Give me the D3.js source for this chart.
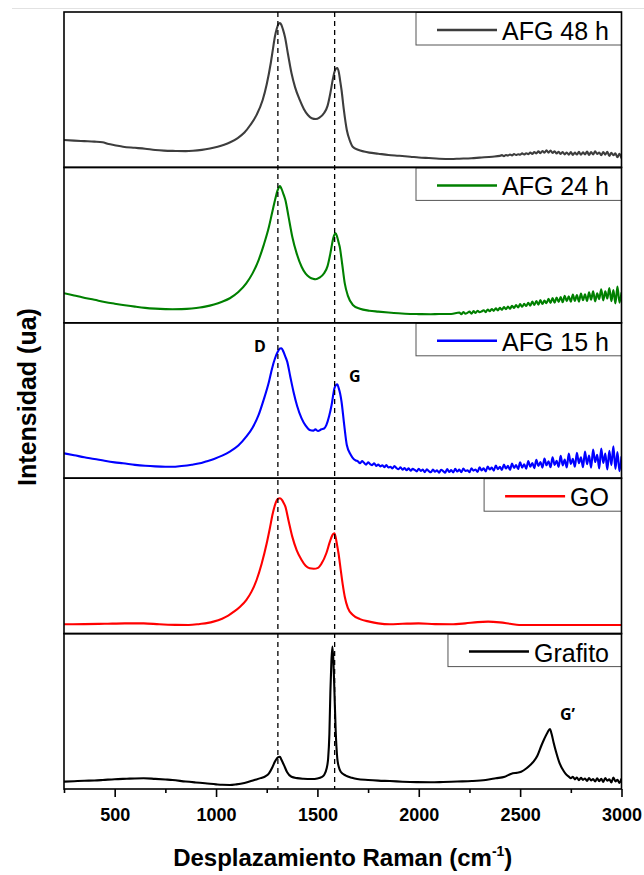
<!DOCTYPE html>
<html><head><meta charset="utf-8">
<script src="https://cdn.jsdelivr.net/npm/d3@7"></script>
<style>body{margin:0;background:#fff}</style>
</head><body>
<svg id="chart" width="644" height="875"></svg>
<script>
const seriesNames = ["AFG 48 h","AFG 24 h","AFG 15 h","GO","Grafito"];
const seriesColors = ["#3d3d3d","#008000","#0000ff","#ff0000","#000000"];

const afg48 = [[250,17.6],[300,17.2],[350,16.9],[400,16.6],[440,16.2],[470,15.0],[500,14.3],[541,13.3],[600,12.6],[650,12.0],[700,11.2],[743,10.8],[800,10.6],[850,10.5],[886,10.7],[930,11.3],[970,12.2],[1008,13.3],[1040,14.6],[1070,16.2],[1107,18.9],[1140,22.4],[1169,27.3],[1200,33.8],[1230,43.4],[1250,53.5],[1270,67.2],[1280,75.6],[1290,83.9],[1300,89.5],[1310,92.6],[1315,92.9],[1322,91.8],[1330,88.8],[1340,83.9],[1355,72.8],[1372,60.7],[1390,51.5],[1413,43.4],[1433,37.6],[1453,33.7],[1472,31.6],[1492,31.1],[1510,32.0],[1533,35.0],[1550,39.6],[1564,47.9],[1575,56.0],[1584,61.4],[1592,63.6],[1598,64.0],[1606,61.0],[1612,56.0],[1619,49.8],[1630,37.5],[1645,24.1],[1660,17.2],[1674,13.3],[1700,11.4],[1730,10.2],[1756,9.5],[1800,8.8],[1850,8.0],[1900,7.5],[1958,6.9],[2000,6.4],[2050,6.0],[2100,5.6],[2160,5.4],[2200,5.6],[2260,5.9],[2300,6.3],[2363,6.9],[2400,7.4],[2410,7.9],[2420,7.2],[2430,8.0],[2440,7.6],[2450,8.3],[2460,7.7],[2470,8.6],[2480,8.0],[2490,8.5],[2500,8.2],[2510,9.0],[2520,8.3],[2530,9.1],[2540,8.5],[2550,9.6],[2560,8.7],[2570,9.8],[2580,9.0],[2590,10.3],[2600,9.2],[2610,10.6],[2620,9.4],[2630,11.0],[2640,9.5],[2650,10.9],[2660,9.3],[2670,10.4],[2680,9.0],[2690,10.1],[2700,8.6],[2710,9.9],[2720,8.4],[2730,9.6],[2740,8.2],[2750,9.8],[2760,8.0],[2770,9.5],[2780,8.3],[2790,10.0],[2800,8.1],[2810,9.7],[2820,8.4],[2830,10.2],[2840,8.0],[2850,9.9],[2860,8.3],[2870,10.4],[2880,8.6],[2890,9.6],[2900,7.8],[2910,9.9],[2920,8.2],[2930,10.1],[2940,7.4],[2950,9.4],[2960,7.8],[2970,9.0],[2980,6.5],[2990,8.8],[3000,5.8]];

const afg24 = [[250,19.0],[300,17.6],[339,16.4],[400,14.8],[450,13.4],[500,12.3],[541,11.5],[600,10.4],[650,9.6],[700,9.1],[750,8.8],[785,8.7],[830,8.8],[880,9.2],[920,9.8],[946,10.4],[990,11.8],[1030,13.6],[1068,15.8],[1110,19.8],[1149,25.4],[1180,31.8],[1210,40.4],[1235,50.0],[1261,61.8],[1276,70.5],[1291,79.0],[1303,85.0],[1312,87.6],[1315,88.0],[1322,86.5],[1332,83.0],[1342,79.0],[1358,68.0],[1376,55.4],[1398,44.5],[1422,36.1],[1442,31.6],[1462,29.3],[1478,28.3],[1492,28.0],[1510,29.0],[1533,31.9],[1550,36.5],[1564,44.7],[1572,50.5],[1578,54.4],[1585,57.0],[1590,57.6],[1597,55.5],[1604,52.0],[1610,49.0],[1622,38.0],[1635,25.4],[1650,17.5],[1675,11.5],[1710,9.0],[1756,7.8],[1800,7.2],[1850,6.6],[1900,6.1],[1958,5.7],[2000,5.6],[2060,5.5],[2100,5.7],[2160,5.7],[2200,6.6],[2210,5.5],[2220,6.9],[2230,5.8],[2240,6.4],[2250,7.2],[2260,5.9],[2270,7.5],[2280,6.3],[2290,7.8],[2300,6.8],[2310,7.3],[2320,8.1],[2330,6.9],[2340,8.6],[2350,7.4],[2360,8.9],[2370,7.7],[2380,9.3],[2390,8.0],[2400,9.6],[2410,8.4],[2420,10.1],[2430,8.8],[2440,10.4],[2450,9.0],[2460,11.0],[2470,9.5],[2480,11.4],[2490,9.9],[2500,12.0],[2510,10.3],[2520,12.2],[2530,10.8],[2540,12.9],[2550,11.0],[2560,13.6],[2570,11.5],[2580,14.0],[2590,11.7],[2600,14.6],[2610,12.1],[2620,14.3],[2630,12.6],[2640,15.4],[2650,12.8],[2660,15.9],[2670,13.0],[2680,16.2],[2690,13.4],[2700,16.6],[2710,13.2],[2720,17.4],[2730,13.9],[2740,17.0],[2750,13.5],[2760,18.2],[2770,14.1],[2780,17.8],[2790,13.6],[2800,18.9],[2810,14.5],[2820,18.4],[2830,14.0],[2840,19.6],[2850,14.8],[2860,20.3],[2870,13.8],[2880,19.0],[2890,15.2],[2900,21.6],[2910,14.4],[2920,20.2],[2930,15.6],[2940,22.4],[2950,13.9],[2960,21.0],[2970,12.5],[2980,23.4],[2990,13.0],[3000,19.5]];

const afg15 = [[250,16.0],[300,14.8],[350,13.5],[400,12.4],[450,11.2],[500,10.2],[541,9.6],[600,8.6],[650,8.0],[700,7.6],[750,7.4],[785,7.4],[830,7.9],[880,8.7],[920,9.6],[946,10.6],[990,12.4],[1030,14.5],[1068,17.1],[1110,21.0],[1149,26.7],[1180,32.5],[1210,40.7],[1235,50.5],[1261,62.1],[1276,70.5],[1291,77.2],[1305,81.5],[1315,83.4],[1323,83.6],[1332,81.5],[1341,78.5],[1351,75.0],[1366,65.5],[1382,55.7],[1400,46.5],[1422,38.5],[1442,33.8],[1462,31.0],[1480,30.6],[1490,31.4],[1503,30.4],[1520,31.5],[1533,32.0],[1544,34.2],[1558,40.0],[1570,47.1],[1584,57.9],[1592,60.0],[1598,60.4],[1605,58.0],[1612,54.5],[1619,49.2],[1632,34.5],[1645,21.4],[1665,15.0],[1680,12.2],[1690,11.4],[1700,10.8],[1710,9.6],[1720,11.0],[1730,9.9],[1740,8.7],[1750,10.2],[1760,9.1],[1770,8.4],[1780,9.6],[1790,7.9],[1800,8.8],[1810,7.6],[1820,8.3],[1830,7.1],[1840,8.5],[1850,6.9],[1860,7.4],[1870,6.2],[1880,7.8],[1890,6.5],[1900,5.8],[1910,7.0],[1920,5.5],[1930,6.6],[1940,5.1],[1950,6.3],[1960,4.8],[1970,6.0],[1980,5.3],[1990,4.4],[2000,6.1],[2010,4.7],[2020,5.5],[2030,3.9],[2040,5.8],[2050,4.5],[2060,3.8],[2070,5.6],[2080,4.2],[2090,5.1],[2100,3.6],[2110,5.4],[2120,4.6],[2130,3.5],[2140,5.9],[2150,4.0],[2160,5.2],[2170,3.7],[2180,6.0],[2190,4.3],[2200,5.5],[2210,3.9],[2220,6.2],[2230,4.6],[2240,5.1],[2250,3.8],[2260,6.4],[2270,4.9],[2280,5.6],[2290,4.1],[2300,7.0],[2310,5.0],[2320,6.3],[2330,4.4],[2340,7.5],[2350,5.6],[2360,6.8],[2370,4.9],[2380,8.1],[2390,5.8],[2400,7.4],[2410,5.3],[2420,8.8],[2430,6.2],[2440,7.9],[2450,5.4],[2460,9.4],[2470,6.6],[2480,8.5],[2490,5.9],[2500,10.2],[2510,6.8],[2520,9.0],[2530,6.1],[2540,11.0],[2550,7.4],[2560,9.8],[2570,6.5],[2580,11.8],[2590,7.9],[2600,10.4],[2610,6.8],[2620,12.6],[2630,8.3],[2640,10.9],[2650,7.0],[2660,13.5],[2670,8.6],[2680,11.2],[2690,7.3],[2700,14.4],[2710,8.2],[2720,12.0],[2730,6.9],[2740,15.8],[2750,9.1],[2760,12.5],[2770,7.4],[2780,16.3],[2790,9.6],[2800,13.4],[2810,7.0],[2820,17.2],[2830,9.0],[2840,14.6],[2850,6.8],[2860,18.4],[2870,10.4],[2880,15.0],[2890,6.2],[2900,19.0],[2910,9.8],[2920,15.8],[2930,5.6],[2940,17.6],[2950,8.4],[2960,20.5],[2970,6.0],[2980,16.8],[2990,4.5],[3000,14.0]];

const grapheneOxide = [[250,6.0],[350,6.1],[450,6.3],[550,6.6],[643,6.6],[720,6.0],[800,5.6],[865,5.5],[920,6.2],[960,6.9],[987,7.7],[1030,9.6],[1060,11.6],[1088,14.1],[1120,17.5],[1149,21.6],[1175,27.0],[1200,34.5],[1225,45.0],[1250,58.1],[1265,67.5],[1280,77.4],[1295,84.5],[1305,86.7],[1315,87.1],[1325,86.0],[1333,84.2],[1342,81.7],[1358,72.5],[1376,62.4],[1398,53.6],[1422,47.4],[1442,43.6],[1462,42.0],[1482,41.7],[1503,42.3],[1520,45.0],[1544,51.7],[1560,58.5],[1574,63.4],[1580,64.3],[1584,64.5],[1590,62.0],[1597,57.0],[1604,51.7],[1615,41.0],[1625,31.5],[1635,23.7],[1650,16.5],[1675,12.0],[1710,9.3],[1756,7.7],[1800,6.6],[1857,6.0],[1920,6.3],[1999,6.6],[2080,6.1],[2160,6.0],[2230,6.6],[2290,7.4],[2342,7.7],[2400,7.2],[2450,6.3],[2495,5.5],[2600,5.5],[2768,5.5],[2900,5.5],[3000,5.5]];

const graphite = [[250,4.7],[300,5.0],[350,5.3],[400,5.5],[441,5.8],[500,6.3],[560,6.6],[600,6.8],[643,6.9],[700,6.5],[750,6.1],[785,5.8],[850,4.8],[900,4.2],[946,3.7],[1000,3.0],[1030,2.7],[1068,2.6],[1100,3.0],[1140,3.9],[1189,5.8],[1220,7.0],[1245,8.3],[1261,10.1],[1278,14.0],[1290,17.5],[1295,18.7],[1305,20.4],[1315,20.8],[1322,19.0],[1335,15.4],[1350,11.0],[1372,7.9],[1400,7.0],[1430,6.6],[1473,6.4],[1500,6.8],[1520,7.6],[1533,9.0],[1545,13.0],[1553,19.8],[1559,35.0],[1564,62.6],[1569,82.0],[1574,91.6],[1579,82.0],[1584,62.6],[1590,38.0],[1598,19.8],[1606,14.0],[1615,11.1],[1640,8.6],[1670,7.2],[1696,6.4],[1750,5.8],[1800,5.4],[1857,5.1],[1920,4.7],[1990,4.4],[2059,4.3],[2120,4.5],[2190,4.8],[2262,5.1],[2330,5.8],[2380,6.9],[2424,7.9],[2445,9.2],[2464,10.1],[2485,10.4],[2505,11.1],[2530,13.2],[2550,15.5],[2566,17.6],[2585,21.4],[2606,28.3],[2620,32.5],[2635,36.4],[2647,38.6],[2655,35.5],[2665,30.0],[2677,24.0],[2695,16.5],[2717,11.1],[2730,9.0],[2740,8.0],[2750,7.0],[2760,7.8],[2770,6.2],[2780,7.4],[2790,5.6],[2800,7.2],[2810,5.9],[2820,6.8],[2830,5.2],[2840,7.0],[2850,5.5],[2860,6.4],[2870,4.8],[2880,6.9],[2890,5.0],[2900,6.6],[2910,4.6],[2920,7.1],[2930,5.3],[2940,6.3],[2950,4.2],[2960,7.4],[2970,4.9],[2980,6.0],[2990,3.9],[3000,6.8]];

const seriesData = [afg48, afg24, afg15, grapheneOxide, graphite];
const xTicks = [500,1000,1500,2000,2500,3000];
const xMinorTicks = [250,750,1250,1750,2250,2750];
const peakLines = [1305,1585];
const peakLabels = [["D",1216,81.4,"AFG 15 h"],["G",1684,62,"AFG 15 h"],["G\u2019",2734,44.4,"Grafito"]];

const svg = d3.select("#chart");
const plotLeft = 64, plotRight = 621.5, plotTop = 12, plotBottom = 789;

svg.append("line").attr("x1",12).attr("x2",644).attr("y1",8.5).attr("y2",8.5)
  .attr("stroke","#e2e2e2").attr("stroke-width",1);

const x = d3.scaleLinear().domain([250,3000]).range([plotLeft,plotRight]);
const band = d3.scaleBand().domain(seriesNames).range([plotTop,plotBottom]).paddingInner(0).paddingOuter(0);
const bh = band.bandwidth();
const yFor = name => d3.scaleLinear().domain([0,100]).range([band(name)+bh, band(name)]);

const defs = svg.append("defs");
seriesNames.forEach((name,i) => {
  defs.append("clipPath").attr("id","clip"+i).append("rect")
    .attr("x",plotLeft).attr("y",band(name)).attr("width",plotRight-plotLeft).attr("height",bh);
});

seriesNames.forEach((name,i) => {
  const y = yFor(name);
  const line = d3.line().x(d => x(d[0])).y(d => y(d[1])).curve(d3.curveMonotoneX);
  svg.append("path").datum(seriesData[i])
    .attr("clip-path","url(#clip"+i+")")
    .attr("d", line).attr("fill","none")
    .attr("stroke", seriesColors[i]).attr("stroke-width", 2.1)
    .attr("stroke-linejoin","round");
});

// legends
seriesNames.forEach((name,i) => {
  const py = band(name);
  const g = svg.append("g");
  const t = g.append("text").text(name)
    .attr("font-family","'Liberation Sans', Arial, sans-serif").attr("font-size",25)
    .attr("fill","#000").attr("y", py+28).attr("text-anchor","end").attr("x", 609);
  const tw = t.node().getComputedTextLength();
  const ts = 609 - tw;
  g.append("line").attr("x1", ts-65).attr("x2", ts-5).attr("y1", py+18).attr("y2", py+18)
    .attr("stroke", seriesColors[i]).attr("stroke-width", 2.5);
  const bx = ts - 86;
  g.insert("rect","text").attr("x", bx).attr("y", py+0.5).attr("width", plotRight-bx).attr("height", 32.5)
    .attr("fill","#fff").attr("stroke","#555").attr("stroke-width",1);
});

// dashed lines
peakLines.forEach(v => {
  svg.append("line").attr("x1", x(v)).attr("x2", x(v)).attr("y1", plotTop).attr("y2", plotBottom)
    .attr("stroke","#000").attr("stroke-width",1.3).attr("stroke-dasharray","5,4");
});

// panel borders
seriesNames.forEach(name => {
  svg.append("rect").attr("x",plotLeft).attr("y",band(name)).attr("width",plotRight-plotLeft).attr("height",bh)
    .attr("fill","none").attr("stroke","#000").attr("stroke-width",1.6);
});

// peak labels
peakLabels.forEach(([txt, xv, yv, panel]) => {
  svg.append("text").text(txt).attr("x", x(xv)).attr("y", yFor(panel)(yv))
    .attr("text-anchor","middle").attr("font-family","'Open Sans', 'Noto Sans', sans-serif")
    .attr("font-weight","bold").attr("font-size",16).attr("fill","#000");
});

// x axis
const axis = svg.append("g").attr("transform",`translate(0,${plotBottom})`)
  .call(d3.axisBottom(x).tickValues(xTicks).tickSize(8).tickSizeOuter(0).tickFormat(d3.format("d")));
axis.select(".domain").remove();
axis.selectAll(".tick line").attr("stroke","#000").attr("stroke-width",1.6);
axis.selectAll(".tick text").attr("font-family","'Liberation Sans', Arial, sans-serif")
  .attr("font-weight","bold").attr("font-size",18).attr("fill","#000").attr("dy","1.15em");
const minor = svg.append("g").attr("transform",`translate(0,${plotBottom})`)
  .call(d3.axisBottom(x).tickValues(xMinorTicks).tickSize(4).tickSizeOuter(0).tickFormat(""));
minor.select(".domain").remove();
minor.selectAll(".tick line").attr("stroke","#000").attr("stroke-width",1.6);

// axis titles
const xt = svg.append("text").attr("x",(plotLeft+plotRight)/2).attr("y",866).attr("text-anchor","middle")
  .attr("font-family","'Liberation Sans', Arial, sans-serif").attr("font-weight","bold")
  .attr("font-size",24).attr("fill","#000");
xt.append("tspan").text("Desplazamiento Raman (cm");
xt.append("tspan").text("-1").attr("font-size",14).attr("dy",-10);
xt.append("tspan").text(")").attr("dy",10);

svg.append("text").attr("transform",`translate(36,397) rotate(-90)`)
  .attr("text-anchor","middle").attr("font-family","'Liberation Sans', Arial, sans-serif")
  .attr("font-weight","bold").attr("font-size",25).attr("fill","#000").text("Intensidad (ua)");
</script>
</body></html>
